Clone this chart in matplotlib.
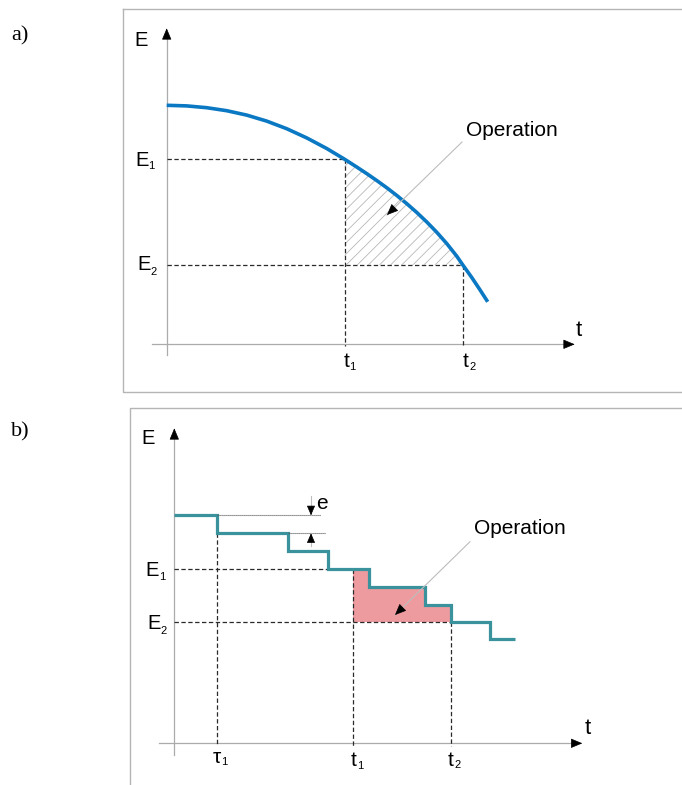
import numpy as np
import matplotlib.pyplot as plt

plt.rcParams['font.family'] = ['Liberation Sans', 'DejaVu Sans']
plt.rcParams['hatch.linewidth'] = 0.6

# a) continuous energy curve E(t)
curve_t = [0, 20, 40, 60, 80, 100, 120, 140, 160, 178, 190, 200, 210, 220, 230,
           240, 250, 260, 270, 280, 290, 296, 305, 313, 321]
curve_E = [239, 238.4, 236.6, 233.6, 229.2, 223.2, 215.6, 206.4, 195.8, 185, 177.3,
           170.7, 163.8, 156.6, 148.9, 140.7, 131.9, 122.4, 112.1, 100.8, 88.2, 79.5,
           66.9, 54.9, 42.5]
a_t1, a_t2 = 178, 296
a_E1, a_E2 = 185, 79.5

# b) stepwise energy, one step of height e per discharge interval
step_t = [0, 43, 114, 154, 195, 251, 277, 316, 341]
step_E = [228, 210, 192, 174, 156, 138, 121, 104]
b_tau1 = 43
b_t1, b_t2 = 178.5, 277
b_E1, b_E2 = 174, 121

W, H = 682, 785
fig = plt.figure(figsize=(W / 100, H / 100), dpi=100)

AX_C = '#ababab'
DASH_C = '#2a2a2a'
PX = 0.72  # pixels -> points


def make_axes(top, bottom, ox, oy):
    # axes whose data units are pixels, origin at the drawn axis cross
    ax = fig.add_axes([0, (H - bottom) / H, 1, (bottom - top) / H])
    ax.set_xlim(-ox, W - ox)
    ax.set_ylim(oy - bottom, oy - top)
    ax.axis('off')
    return ax


def axis_arrows(ax, y_top, x_right, x_left, y_bot):
    ax.plot([0, 0], [y_bot, y_top], color=AX_C, lw=0.9, zorder=1)
    ax.plot([x_left, x_right], [0, 0], color=AX_C, lw=0.9, zorder=1)
    st = '-|>,head_length=0.6,head_width=0.25'
    ax.annotate('', xy=(0, y_top + 10), xytext=(0, y_top),
                arrowprops=dict(arrowstyle=st, color='black', lw=0.5,
                                mutation_scale=12, shrinkA=0, shrinkB=0))
    ax.annotate('', xy=(x_right + 10, 0), xytext=(x_right, 0),
                arrowprops=dict(arrowstyle=st, color='black', lw=0.5,
                                mutation_scale=12, shrinkA=0, shrinkB=0))


def label(ax, x, y, main, sub=None, dx=0, dy=0, sdx=9, sdy=-6, size=14.5, ssize=8):
    ax.annotate(main, xy=(x, y), xytext=(dx * PX, dy * PX), textcoords='offset points',
                ha='center', va='center', fontsize=size)
    if sub:
        ax.annotate(sub, xy=(x, y), xytext=((dx + sdx) * PX, (dy + sdy) * PX),
                    textcoords='offset points', ha='center', va='center', fontsize=ssize)


def leader(ax, start, tip, head=10):
    ax.plot([start[0], tip[0]], [start[1], tip[1]], color='#bdbdbd', lw=0.8, zorder=4)
    d = np.array(tip) - np.array(start)
    d = d / np.hypot(*d)
    back = np.array(tip) - d * head
    ax.annotate('', xy=tip, xytext=back,
                arrowprops=dict(arrowstyle='-|>,head_length=0.7,head_width=0.3',
                                color='black', lw=0.5, mutation_scale=head * PX * 1.4,
                                shrinkA=0, shrinkB=0), zorder=5)


def dashed(ax, xs, ys):
    ax.plot(xs, ys, color=DASH_C, lw=0.9, dashes=(3.5, 2), zorder=2)


# ---------------- panel a ----------------
ax = make_axes(0, 400, 166.7, 344.3)
ax.plot([-43.7, 530, None, -43.7, -43.7, 530], [335, 335, None, 335, -47.7, -47.7],
        color='#b5b5b5', lw=1.0, clip_on=False)
axis_arrows(ax, 306, 398, -15, -11)

ct = np.array(curve_t)
cE = np.array(curve_E)
m = (ct >= a_t1) & (ct <= a_t2)
ax.fill_between(ct[m], a_E2, cE[m], facecolor='none', edgecolor='#b8b8b8',
                hatch='///', lw=0, zorder=2)
dashed(ax, [0, a_t1], [a_E1, a_E1])
dashed(ax, [0, a_t2], [a_E2, a_E2])
dashed(ax, [a_t1, a_t1], [a_E1, -2])
dashed(ax, [a_t2, a_t2], [a_E2, -2])
ax.plot(ct, cE, color='#0a78c2', lw=2.6, solid_capstyle='butt',
        solid_joinstyle='round', zorder=3)

label(ax, 0, 0, 'E', dx=-26, dy=303.5)
label(ax, 0, a_E1, 'E', '1', dx=-24.7, dy=-1.5, sdx=9.5, sdy=-5)
label(ax, 0, a_E2, 'E', '2', dx=-23, dy=0, sdx=10, sdy=-7.5)
label(ax, a_t1, 0, 't', '1', dx=1.5, dy=-17.5, sdx=6.4, sdy=-5.3, size=15)
label(ax, a_t2, 0, 't', '2', dx=3, dy=-17.5, sdx=6.4, sdy=-5.3, size=15)
label(ax, 0, 0, 't', dx=412.3, dy=14.3, size=16)
ax.text(299.3, 214.3, 'Operation', fontsize=15, ha='left', va='center')
leader(ax, (295.3, 202.3), (220.3, 129.3))

# ---------------- panel b ----------------
bx = make_axes(400, 785, 174.3, 743.3)
bx.plot([-44.3, -44.3, 530], [-60, 335.3, 335.3], color='#b5b5b5', lw=1.0, clip_on=False)
axis_arrows(bx, 305, 398, -15, -11.7)

fx = [b_t1] + [t for t in step_t if b_t1 < t < b_t2] + [b_t2]
fy = [step_E[np.searchsorted(step_t, x, side='right') - 1] for x in fx[:-1]]
fy.append(fy[-1])
bx.fill_between(fx, b_E2, fy, step='post', facecolor='#ee9b9f', lw=0, zorder=2)

dashed(bx, [0, b_t1], [b_E1, b_E1])
dashed(bx, [0, b_t2], [b_E2, b_E2])
dashed(bx, [b_tau1, b_tau1], [step_E[1], -3])
dashed(bx, [b_t1, b_t1], [b_E1, -3])
dashed(bx, [b_t2, b_t2], [b_E2, -3])

bx.stairs(step_E, step_t, baseline=None, color='#3a929c', lw=2.3, zorder=3)

# step height e
bx.plot([step_t[1], 146.7], [step_E[0], step_E[0]], color='#555555', lw=0.8,
        linestyle=(0, (1, 0.8)), zorder=3)
bx.plot([step_t[2], 150.7], [step_E[1], step_E[1]], color='#555555', lw=0.8,
        linestyle=(0, (1, 0.8)), zorder=3)
leader(bx, (136.7, step_E[0] + 19), (136.7, step_E[0]), head=8.5)
leader(bx, (136.7, step_E[1] - 13), (136.7, step_E[1]), head=8.5)
bx.text(141.7, 239.3, 'e', fontsize=15, ha='left', va='center')

label(bx, 0, 0, 'E', dx=-26, dy=304.6)
label(bx, 0, b_E1, 'E', '1', dx=-22.3, dy=-1.5, sdx=10, sdy=-6.5)
label(bx, 0, b_E2, 'E', '2', dx=-20, dy=-1.5, sdx=9.5, sdy=-7)
label(bx, b_tau1, 0, 'τ', '1', dx=-0.5, dy=-14.5, sdx=7.5, sdy=-4.5, size=15)
label(bx, b_t1, 0, 't', '1', dx=0.5, dy=-17, sdx=6.5, sdy=-5.5, size=15)
label(bx, b_t2, 0, 't', '2', dx=-0.5, dy=-17, sdx=6.5, sdy=-4.5, size=15)
label(bx, 0, 0, 't', dx=413.7, dy=15.3, size=16)
bx.text(300, 214.3, 'Operation', fontsize=15, ha='left', va='center')
leader(bx, (295.7, 201.6), (220.7, 128.3))

fig.text(11 / W, 1 - 36 / H, 'a)', fontsize=16, family='Liberation Serif', va='center')
fig.text(11 / W, 1 - 432 / H, 'b)', fontsize=16, family='Liberation Serif', va='center')

fig.savefig('out.png', dpi=100)
